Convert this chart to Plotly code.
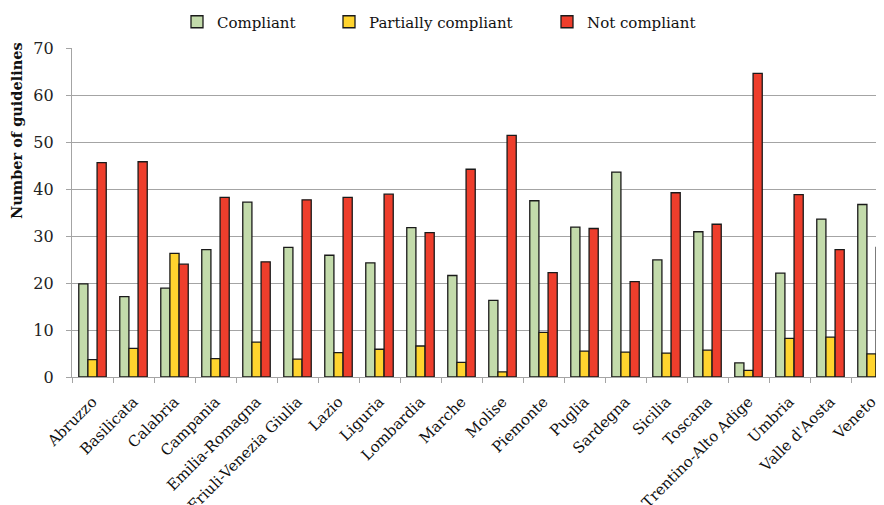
import plotly.graph_objects as go

regions = ["Abruzzo", "Basilicata", "Calabria", "Campania", "Emilia-Romagna",
           "Friuli-Venezia Giulia", "Lazio", "Liguria", "Lombardia", "Marche",
           "Molise", "Piemonte", "Puglia", "Sardegna", "Sicilia", "Toscana",
           "Trentino-Alto Adige", "Umbria", "Valle d'Aosta", "Veneto"]

compliant = [19.8, 17.1, 18.9, 27.1, 37.2, 27.6, 25.9, 24.3, 31.8, 21.6,
             16.3, 37.5, 31.9, 43.6, 24.9, 30.9, 3.0, 22.1, 33.6, 36.7]
partially = [3.7, 6.1, 26.3, 3.9, 7.4, 3.8, 5.2, 5.9, 6.6, 3.1,
             1.1, 9.5, 5.5, 5.3, 5.1, 5.7, 1.4, 8.2, 8.5, 4.9]
not_compliant = [45.6, 45.8, 24.0, 38.2, 24.5, 37.7, 38.2, 38.9, 30.7, 44.2,
                 51.4, 22.2, 31.6, 20.3, 39.2, 32.5, 64.6, 38.8, 27.1, 27.6]

series = [
    ("Compliant", compliant, "#c3dbab", "legend"),
    ("Partially compliant", partially, "#ffd42e", "legend2"),
    ("Not compliant", not_compliant, "#ee3e2c", "legend3"),
]

serif = "DejaVu Serif"
grid = "#a4a4a4"
plot_w = 820  # 20 categories x 41px, the right end runs past the window

fig = go.Figure()
for name, vals, col, lg in series:
    fig.add_trace(go.Bar(x=regions, y=vals, name=name, legend=lg, showlegend=True,
                         marker=dict(color=col, line=dict(color="#1a1a1a", width=1.3))))

leg = dict(orientation="h", yref="container", y=1 - 14 / 497, yanchor="middle",
           xanchor="left", visible=True,
           font=dict(family=serif, size=15, color="#111"), itemwidth=30,
           bgcolor="rgba(0,0,0,0)")

# page body adds an 8px offset, so margins are shifted by 8px
fig.update_layout(
    width=64 + plot_w, height=497,
    margin=dict(l=64, r=0, t=40, b=128),
    plot_bgcolor="white", paper_bgcolor="white",
    showlegend=True,
    barmode="group", bargap=0.33, bargroupgap=0,
    legend=dict(leg, x=(177 - 72) / plot_w),
    legend2=dict(leg, x=(329 - 72) / plot_w),
    legend3=dict(leg, x=(547 - 72) / plot_w),
    xaxis=dict(type="category", range=[-0.5, 19.5], tickangle=-45, automargin=False,
               tickfont=dict(family=serif, size=15, color="#111"),
               showline=True, linecolor=grid, linewidth=1.3,
               ticks="outside", tickson="boundaries", ticklen=5, tickcolor=grid,
               tickwidth=1.3, ticklabelstandoff=9),
    yaxis=dict(range=[0, 70], dtick=10, showgrid=True, gridcolor=grid, gridwidth=1.3,
               showline=True, linecolor=grid, linewidth=1.3, automargin=False,
               ticks="outside", ticklen=5, tickcolor=grid, tickwidth=1.3,
               tickfont=dict(family=serif, size=16, color="#222"),
               ticklabelstandoff=9, zeroline=False),
    annotations=[dict(text="<b>Number of guidelines</b>", textangle=-90,
                      xref="paper", yref="paper", x=(16 - 72) / plot_w,
                      y=1 - (131 - 48) / 329, xanchor="center", yanchor="middle",
                      showarrow=False,
                      font=dict(family=serif, size=14.5, color="#111"))],
)

fig.write_html("out.html")
